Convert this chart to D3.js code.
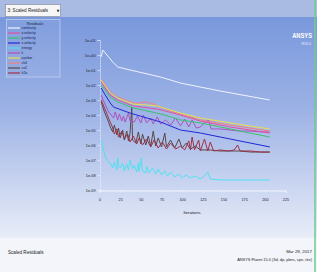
<!DOCTYPE html>
<html>
<head>
<meta charset="utf-8">
<script src="https://cdn.jsdelivr.net/npm/d3@7"></script>
<style>
  html, body { margin: 0; padding: 0; background: #f3f5fb; }
  svg { display: block; }
</style>
</head>
<body>
<div id="chart"></div>
<script>
// residual history, [iteration, log10(residual)]
const continuity = [[2,-0.13],[4,0.33],[6,0.2],[11,-0.13],[16,-0.47],[22,-0.8],[37,-1],[74,-1.47],[98,-1.87],[146,-2.4],[206,-3]];
const epsilon = [[2,-1.67],[7,-2.07],[13,-2.53],[22,-2.87],[31,-3.07],[41,-3.27],[56,-3.33],[70,-3.4],[86,-3.67],[98,-3.87],[122,-4.2],[158,-4.53],[206,-4.93]];
const ch4 = [[2,-1.6],[7,-2.0],[13,-2.47],[22,-2.8],[31,-3.0],[41,-3.2],[50,-3.2],[57,-3.13],[65,-3.27],[74,-3.47],[86,-3.73],[98,-3.93],[122,-4.33],[158,-4.67],[206,-5.07]];
const xVelocity = [[2,-1.8],[7,-2.2],[13,-2.67],[22,-3.0],[41,-3.4],[70,-3.6],[98,-4.0],[122,-4.4],[158,-4.8],[206,-5.2]];
const yVelocity = [[2,-2.0],[7,-2.33],[13,-2.8],[22,-3.13],[41,-3.53],[74,-3.93],[98,-4.33],[122,-4.53],[158,-4.93],[206,-5.47]];
const zVelocity = [[2,-2.2],[7,-2.67],[13,-3.2],[17,-3.47],[37,-3.87],[74,-4.47],[98,-5.0],[122,-5.2],[158,-5.6],[206,-6.13]];
const k = [[2,-2.67],[6,-3.2],[11,-3.8],[16,-4.13],[17,-4.2],[19,-3.8],[22,-4.33],[24,-3.93],[27,-4.4],[29,-4.07],[31,-4.47],[35,-3.87],[37,-4.4],[42,-4.47],[46,-4.07],[50,-4.53],[53,-4],[57,-4.53],[62,-4.2],[65,-4.6],[70,-4.13],[74,-4.6],[80,-4.33],[86,-4.67],[92,-4.2],[98,-4.73],[103,-4.27],[108,-4.8],[112,-4.33],[117,-4.87],[122,-4.8],[128,-4.47],[132,-4.33],[135,-4.93],[146,-4.93],[158,-5],[170,-5.07],[183,-5.07],[195,-5.13],[206,-5.13]];
const co2 = [[2,-3.13],[6,-3.8],[10,-4.33],[13,-4.8],[16,-5.13],[18,-4.67],[21,-5.33],[23,-4.87],[25,-5.53],[28,-5],[30,-5.67],[33,-5.07],[35,-5.73],[37,-5.2],[39,-3.47],[40,-5.67],[44,-5.87],[47,-5.13],[50,-5.93],[52,-5.27],[56,-6],[59,-5.4],[62,-6.07],[65,-5.07],[68,-6.07],[71,-5.53],[75,-6.13],[79,-5.2],[81,-6.13],[86,-5.67],[91,-6.2],[96,-5.6],[100,-6.2],[105,-5.87],[110,-6.27],[116,-6.07],[122,-6.33],[134,-6.33],[146,-6.4],[158,-6.4],[170,-6.4],[183,-6.47],[195,-6.47],[206,-6.47]];
const h2o = [[2,-3],[6,-3.53],[11,-4.2],[16,-4.87],[18,-5.27],[21,-4.93],[23,-5.47],[27,-5.07],[30,-5.6],[34,-5.27],[37,-5.8],[41,-5.4],[45,-5.93],[48,-5.53],[52,-6],[57,-5.6],[62,-6.13],[66,-5.67],[71,-6.2],[76,-5.8],[81,-6.27],[86,-5.87],[92,-6.27],[98,-6.07],[103,-6.33],[108,-5.73],[110,-6.33],[112,-5.47],[115,-6.33],[120,-5.67],[122,-6.4],[127,-5.6],[131,-6.4],[134,-5.8],[138,-6.4],[146,-6.33],[156,-6.4],[163,-6.33],[167,-6],[170,-6.4],[183,-6.4],[195,-6.47],[206,-6.47]];
const energy = [[2,-5.67],[5,-6.33],[7,-6.8],[11,-7.13],[13,-7.2],[16,-7.53],[18,-7.13],[21,-7.67],[22,-6.87],[23,-7.4],[25,-7.53],[28,-7.2],[30,-7.73],[33,-7.27],[35,-7.67],[37,-7],[40,-7.6],[42,-7.33],[45,-7.8],[47,-7.2],[48,-7.73],[50,-6.87],[52,-7.73],[56,-7.87],[57,-7.4],[60,-7.87],[64,-7.53],[68,-7.93],[71,-7.6],[75,-8],[79,-7.73],[82,-8.07],[86,-7.8],[91,-8.13],[96,-7.93],[100,-8.2],[105,-8],[110,-8.2],[116,-8.07],[122,-8.27],[127,-8.07],[131,-7.8],[134,-8.27],[146,-8.33],[158,-8.33],[170,-8.33],[183,-8.33],[195,-8.33],[206,-8.33]];

const seriesNames = ["continuity", "x-velocity", "y-velocity", "z-velocity", "energy", "k", "epsilon", "ch4", "co2", "h2o"];
const seriesData = [continuity, xVelocity, yVelocity, zVelocity, energy, k, epsilon, ch4, co2, h2o];
const seriesColors = ["#eef3ff", "#e050a8", "#3cc070", "#2028d8", "#50e0f0", "#b050c0", "#e8e050", "#f08080", "#584848", "#a03048"];
// draw order: bottom bands first so the smooth bundle sits on top
const drawOrder = [4, 8, 9, 5, 3, 2, 1, 7, 6, 0];

const xTicks = [0, 25, 50, 75, 100, 125, 150, 175, 200, 225];
const yTicks = [1, 0, -1, -2, -3, -4, -5, -6, -7, -8, -9];

const W = 317, H = 272;
const svg = d3.select("#chart").append("svg").attr("width", W).attr("height", H);

const defs = svg.append("defs");
const grad = defs.append("linearGradient").attr("id", "bg").attr("x1", 0).attr("y1", 0).attr("x2", 0).attr("y2", 1);
grad.append("stop").attr("offset", "0%").attr("stop-color", "#7393da");
grad.append("stop").attr("offset", "45%").attr("stop-color", "#9bb1e5");
grad.append("stop").attr("offset", "100%").attr("stop-color", "#e9edf8");

// window background
svg.append("rect").attr("x", 0).attr("y", 0).attr("width", W).attr("height", 238).attr("fill", "url(#bg)");
svg.append("rect").attr("x", 0).attr("y", 0).attr("width", W).attr("height", 17).attr("fill", "#a9bbe3");
svg.append("rect").attr("x", 0).attr("y", 238).attr("width", W).attr("height", H - 238).attr("fill", "#f3f5fb");
svg.append("line").attr("x1", 315).attr("x2", 315).attr("y1", 0).attr("y2", H)
  .attr("stroke", "#72c894").attr("stroke-width", 1.5);

const font = "Liberation Sans Narrow, Liberation Sans, sans-serif";

// dropdown
svg.append("rect").attr("x", 5.5).attr("y", 4.5).attr("width", 55).attr("height", 12)
  .attr("fill", "#f6f6f6").attr("stroke", "#7c8494").attr("stroke-width", 0.6);
svg.append("text").attr("x", 7.5).attr("y", 12.3).text("3: Scaled Residuals")
  .style("font-family", font).style("font-size", "4.6px").style("fill", "#222");
svg.append("text").attr("x", 58).attr("y", 12.3).text("▼").attr("text-anchor", "middle")
  .style("font-family", "DejaVu Sans, sans-serif").style("font-size", "3.4px").style("fill", "#222");

// scales
const x = d3.scaleLinear().domain([0, 225]).range([99.5, 285.5]);
const y = d3.scaleLinear().domain([-9, 1]).range([190, 40]);

const fmt = (d) => "1e" + (d >= 0 ? "+" : "-") + String(Math.abs(d)).padStart(2, "0");

const yAxis = svg.append("g").attr("transform", "translate(100,0)")
  .call(d3.axisLeft(y).tickValues(yTicks).tickFormat(fmt).tickSize(2.5).tickPadding(2));
yAxis.select(".domain").attr("stroke", "#eef3ff").attr("stroke-width", 0.8).attr("stroke-dasharray", "1,0.6");
yAxis.selectAll(".tick line").attr("stroke", "#eef3ff").attr("stroke-width", 0.6);
yAxis.selectAll(".tick text").style("font-family", font).style("font-size", "3.8px").style("fill", "#1a1a2a");

const xAxis = svg.append("g").attr("transform", "translate(0,190.5)")
  .call(d3.axisBottom(x).tickValues(xTicks).tickSize(2).tickPadding(6));
xAxis.select(".domain").attr("stroke", "#f4f7ff").attr("stroke-width", 1);
xAxis.selectAll(".tick line").attr("stroke", "#f4f7ff").attr("stroke-width", 0.6);
xAxis.selectAll(".tick text").style("font-family", font).style("font-size", "3.8px").style("fill", "#1a1a2a");

svg.append("text").attr("x", 192).attr("y", 214).attr("text-anchor", "middle").text("Iterations")
  .style("font-family", font).style("font-size", "4.2px").style("fill", "#1a1a2a");

// residual lines
const line = d3.line().x((d) => x(d[0])).y((d) => y(d[1]));
svg.append("g").selectAll("path").data(drawOrder).enter().append("path")
  .attr("d", (i) => line(seriesData[i]))
  .attr("fill", "none")
  .attr("stroke", (i) => seriesColors[i])
  .attr("stroke-width", 1)
  .attr("stroke-linejoin", "round");

// legend
const legend = svg.append("g");
legend.append("rect").attr("x", 6.5).attr("y", 19.5).attr("width", 53.5).attr("height", 57.5)
  .attr("fill", "rgba(255,255,255,0.06)").attr("stroke", "#c9d5f2").attr("stroke-width", 0.7);
legend.append("text").attr("x", 35).attr("y", 24.5).attr("text-anchor", "middle").text("Residuals")
  .style("font-family", font).style("font-size", "3.8px").style("fill", "#1a2040");
const rowY = (i) => 28 + i * 5;
legend.selectAll(".sw").data(seriesNames).enter().append("line").attr("class", "sw")
  .attr("x1", 8).attr("x2", 20).attr("y1", (d, i) => rowY(i)).attr("y2", (d, i) => rowY(i))
  .attr("stroke", (d, i) => seriesColors[i]).attr("stroke-width", 1.2);
legend.selectAll(".lb").data(seriesNames).enter().append("text").attr("class", "lb")
  .attr("x", 21.5).attr("y", (d, i) => rowY(i) + 1.2).text((d) => d)
  .style("font-family", font).style("font-size", "3.4px").style("fill", "#102050");

// branding
svg.append("text").attr("transform", "translate(312,38) scale(0.72,1)").attr("text-anchor", "end").text("ANSYS")
  .style("font-family", font).style("font-size", "8px").style("font-weight", "bold").style("fill", "#ffffff");
svg.append("text").attr("x", 311).attr("y", 45).attr("text-anchor", "end").text("R15.0")
  .style("font-family", font).style("font-size", "3.6px").style("fill", "#eef2ff");

// footer
svg.append("text").attr("x", 8).attr("y", 253.5).text("Scaled Residuals")
  .style("font-family", font).style("font-size", "4.6px").style("fill", "#222");
svg.append("text").attr("x", 312).attr("y", 252.5).attr("text-anchor", "end").text("Mar 29, 2017")
  .style("font-family", font).style("font-size", "4.4px").style("fill", "#222");
svg.append("text").attr("x", 312).attr("y", 260.8).attr("text-anchor", "end").text("ANSYS Fluent 15.0 (3d, dp, pbns, spe, rke)")
  .style("font-family", font).style("font-size", "3.9px").style("fill", "#222");
</script>
</body>
</html>
